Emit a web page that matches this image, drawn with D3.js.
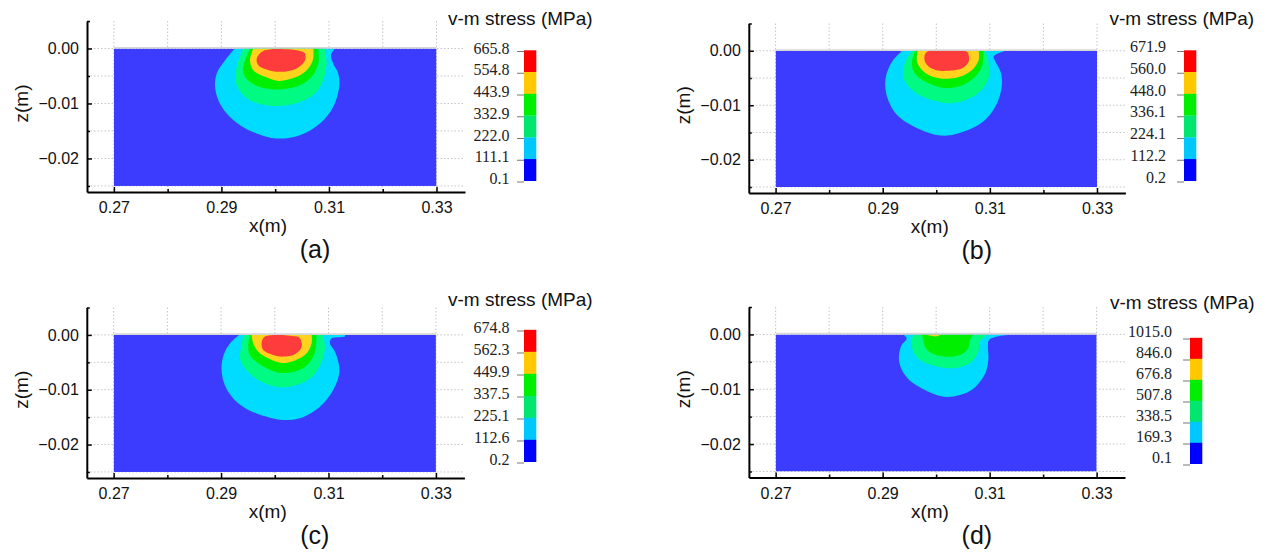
<!DOCTYPE html>
<html>
<head>
<meta charset="utf-8">
<script src="https://cdn.jsdelivr.net/npm/d3@7"></script>
<style>
  body { margin: 0; background: #fff; }
  svg { display: block; }
</style>
</head>
<body>
<svg id="fig" width="1268" height="554"></svg>
<script>
// ---- axes ----
const xTicksMajor = [0.27, 0.29, 0.31, 0.33];
const xTicksMinor = [0.28, 0.30, 0.32];
const zTicksMajor = [0, -0.01, -0.02];
const zTicksMinor = [0.005, -0.005, -0.015, -0.025];
const xDomain = [0.265, 0.3353];
const zDomain = [-0.0261, 0.005];
const fieldX = [0.27, 0.33];     // extent of the computed domain (m)
const fieldZ = [-0.025, 0];

// ---- colour bar labels (MPa), top to bottom ----
const legendA = ["665.8", "554.8", "443.9", "332.9", "222.0", "111.1", "0.1"];
const legendB = ["671.9", "560.0", "448.0", "336.1", "224.1", "112.2", "0.2"];
const legendC = ["674.8", "562.3", "449.9", "337.5", "225.1", "112.6", "0.2"];
const legendD = ["1015.0", "846.0", "676.8", "507.8", "338.5", "169.3", "0.1"];

// ---- iso-stress boundaries [x (m), z (m)], from the 2nd band upward ----
// (a)
const cyanA = [[0.2925,0],[0.29068,-0.00213],[0.28913,-0.00455],[0.28882,-0.00698],[0.28943,-0.0094],[0.29099,-0.01182],[0.29346,-0.01395],[0.29656,-0.01545],[0.30028,-0.01636],[0.30461,-0.01576],[0.30832,-0.01364],[0.31079,-0.01062],[0.31191,-0.00698],[0.31172,-0.00455],[0.31079,-0.00273],[0.31037,-0.00122],[0.31111,0]];
const ltGreenA = [[0.29408,0],[0.29285,-0.00335],[0.29272,-0.00636],[0.29378,-0.00818],[0.29593,-0.00971],[0.30028,-0.01044],[0.30461,-0.00971],[0.3074,-0.00818],[0.30894,-0.00576],[0.30957,-0.00273],[0.30925,0]];
const greenA = [[0.29532,0],[0.29408,-0.00335],[0.29439,-0.00516],[0.29625,-0.00667],[0.30028,-0.00745],[0.30461,-0.00667],[0.30678,-0.00516],[0.30801,-0.00273],[0.30801,0]];
const yellowA = [[0.29593,0],[0.29532,-0.00213],[0.29593,-0.00395],[0.29811,-0.00516],[0.30058,-0.00589],[0.304,-0.00516],[0.30615,-0.00364],[0.30708,-0.00182],[0.30708,0]];
const redA = [[0.29779,-0.00044],[0.30461,-0.00044],[0.30554,-0.00091],[0.30554,-0.00213],[0.304,-0.00364],[0.30089,-0.00425],[0.29842,-0.00382],[0.29686,-0.00304],[0.29657,-0.00182]];
// (b)
const cyanB = [[0.2936,0],[0.29174,-0.002],[0.29067,-0.00442],[0.29049,-0.00685],[0.2911,-0.00927],[0.29235,-0.0114],[0.29454,-0.01322],[0.29764,-0.01473],[0.3,-0.01545],[0.30262,-0.01551],[0.30761,-0.01376],[0.31009,-0.01164],[0.31164,-0.00891],[0.31228,-0.00587],[0.31196,-0.00376],[0.31103,-0.00195],[0.31071,-0.00104],[0.31289,0]];
const ltGreenB = [[0.29547,0],[0.29422,-0.002],[0.29379,-0.00442],[0.29454,-0.00624],[0.2967,-0.00805],[0.30014,-0.00927],[0.30262,-0.00964],[0.30574,-0.00896],[0.30823,-0.00745],[0.30978,-0.00504],[0.30978,-0.00218],[0.30916,0]];
const greenB = [[0.29609,0],[0.29547,-0.002],[0.29577,-0.00382],[0.29734,-0.00533],[0.30014,-0.00655],[0.30231,-0.00685],[0.30511,-0.00624],[0.30729,-0.00473],[0.30854,-0.00291],[0.30884,0]];
const yellowB = [[0.29652,0],[0.29641,-0.002],[0.29734,-0.00351],[0.29921,-0.00473],[0.30201,-0.00515],[0.30449,-0.00473],[0.30668,-0.00351],[0.30791,-0.00169],[0.30791,0]];
const redB = [[0.29827,-0.00018],[0.30574,-0.00018],[0.30604,-0.00078],[0.30604,-0.002],[0.30481,-0.00322],[0.30201,-0.00369],[0.29982,-0.00351],[0.29827,-0.0026],[0.29777,-0.0014]];
// (c)
const cyanC = [[0.29338,0],[0.29197,-0.00122],[0.29072,-0.00305],[0.2901,-0.00547],[0.29029,-0.0079],[0.29133,-0.01035],[0.29319,-0.01246],[0.29599,-0.01411],[0.2991,-0.01509],[0.30157,-0.01551],[0.30468,-0.0152],[0.3084,-0.01309],[0.31088,-0.01004],[0.312,-0.00699],[0.31181,-0.00487],[0.3112,-0.00305],[0.31026,-0.00151],[0.31058,-0.0006],[0.31306,-0.00031],[0.31306,0]];
const ltGreenC = [[0.29412,0],[0.29383,-0.00182],[0.29351,-0.00425],[0.29444,-0.00608],[0.29692,-0.00821],[0.30058,-0.00949],[0.30407,-0.00912],[0.30716,-0.00748],[0.30872,-0.00487],[0.30933,-0.00243],[0.30902,0]];
const greenC = [[0.29537,0],[0.29506,-0.00182],[0.29537,-0.00365],[0.29692,-0.00516],[0.29941,-0.00648],[0.30127,-0.00693],[0.30407,-0.00657],[0.30622,-0.00529],[0.30747,-0.00305],[0.30779,0]];
const yellowC = [[0.29569,0],[0.29599,-0.00151],[0.29692,-0.00305],[0.29878,-0.00425],[0.30127,-0.00511],[0.30375,-0.00465],[0.30593,-0.00334],[0.30686,-0.00151],[0.30686,0]];
const redC = [[0.29817,-0.00031],[0.30407,-0.00031],[0.30468,-0.0006],[0.305,-0.00214],[0.30375,-0.00352],[0.30157,-0.00396],[0.29971,-0.00365],[0.29785,-0.00274],[0.29755,-0.00151]];
// (d)
const cyanD = [[0.29385,0],[0.29449,-0.00073],[0.29355,-0.00195],[0.29305,-0.00376],[0.29323,-0.00558],[0.29417,-0.0074],[0.29572,-0.00891],[0.29791,-0.01013],[0.30009,-0.01104],[0.30196,-0.0114],[0.30445,-0.01104],[0.30664,-0.01013],[0.30819,-0.00862],[0.30931,-0.0068],[0.30978,-0.00436],[0.30968,-0.00225],[0.30987,-0.00104],[0.31137,-0.0004],[0.31411,0]];
const ltGreenD = [[0.29572,0],[0.29542,-0.00104],[0.29572,-0.00316],[0.29697,-0.00467],[0.29916,-0.00558],[0.30196,-0.00618],[0.30477,-0.00589],[0.30664,-0.00498],[0.30787,-0.00316],[0.30819,-0.00135],[0.30912,-0.00044],[0.30974,0]];
const greenD = [[0.29729,0],[0.29759,-0.00104],[0.29791,-0.00225],[0.29916,-0.00345],[0.30196,-0.00407],[0.30445,-0.00376],[0.306,-0.00255],[0.30632,-0.00104],[0.30693,0]];
const yellowD = [[0.29822,0],[0.29884,-0.00022],[0.29996,-0.00035],[0.30103,0]];
const redD = [];

// ---- colours: lowest band first ----
const fieldColors = ["#3c3cff", "#00dcff", "#00fa82", "#00ee00", "#ffd21e", "#ff3c3c"];
const barColors   = ["#0000ff", "#00c8ff", "#00e66e", "#00ee00", "#ffc800", "#ff0000"];

const panels = [
  { tag: "(a)", bands: [cyanA, ltGreenA, greenA, yellowA, redA], labels: legendA,
    left: 87, top: 21, width: 378, height: 171,
    leg: { tx: 448, ty: 25, labelRight: 509.5, barX: 524, barTop: 51.5, barBot: 182, dy: 2 } },
  { tag: "(b)", bands: [cyanB, ltGreenB, greenB, yellowB, redB], labels: legendB,
    left: 748.8, top: 23.5, width: 376.6, height: 169.5,
    leg: { tx: 1109.5, ty: 25, labelRight: 1166, barX: 1184, barTop: 51.5, barBot: 182, dy: 0.5 } },
  { tag: "(c)", bands: [cyanC, ltGreenC, greenC, yellowC, redC], labels: legendC,
    left: 86.8, top: 307.5, width: 377.6, height: 170.5,
    leg: { tx: 448, ty: 306, labelRight: 509.5, barX: 524, barTop: 331, barBot: 463, dy: 1.5 } },
  { tag: "(d)", bands: [cyanD, ltGreenD, greenD, yellowD, redD], labels: legendD,
    left: 748.9, top: 307, width: 376.1, height: 170.5,
    leg: { tx: 1110, ty: 309, labelRight: 1172, barX: 1190, barTop: 339, barBot: 465, dy: -2 } }
];

const sans = "'Liberation Sans', Arial, Helvetica, sans-serif";
const serif = "'Liberation Serif', 'Times New Roman', serif";
const svg = d3.select("#fig");

panels.forEach((p, pi) => {
  const g = svg.append("g");
  const x = d3.scaleLinear().domain(xDomain).range([p.left, p.left + p.width]);
  const z = d3.scaleLinear().domain(zDomain).range([p.top + p.height, p.top]);

  // dotted grid
  const grid = g.append("g").attr("stroke", "#c4c4c4").attr("stroke-width", 1)
    .attr("stroke-dasharray", "1.5,2");
  grid.selectAll("line.v").data(xTicksMajor.concat(xTicksMinor)).join("line")
    .attr("x1", d => x(d)).attr("x2", d => x(d))
    .attr("y1", p.top).attr("y2", p.top + p.height);
  grid.selectAll("line.h").data(zTicksMajor.concat(zTicksMinor.filter(v => v < 0))).join("line")
    .attr("x1", p.left).attr("x2", p.left + p.width)
    .attr("y1", d => z(d)).attr("y2", d => z(d));

  // stress field
  const clipId = "clip" + pi;
  g.append("clipPath").attr("id", clipId).append("rect")
    .attr("x", x(fieldX[0])).attr("y", z(fieldZ[1]))
    .attr("width", x(fieldX[1]) - x(fieldX[0])).attr("height", z(fieldZ[0]) - z(fieldZ[1]));
  const field = g.append("g").attr("clip-path", `url(#${clipId})`);
  field.append("rect")
    .attr("x", x(fieldX[0])).attr("y", z(fieldZ[1]))
    .attr("width", x(fieldX[1]) - x(fieldX[0])).attr("height", z(fieldZ[0]) - z(fieldZ[1]))
    .attr("fill", fieldColors[0]);

  const openLine = d3.line().x(d => x(d[0])).y(d => z(d[1])).curve(d3.curveCatmullRom.alpha(0.5));
  const closedLine = d3.line().x(d => x(d[0])).y(d => z(d[1])).curve(d3.curveCatmullRomClosed.alpha(0.5));
  p.bands.forEach((pts, i) => {
    if (!pts.length) return;
    const touchesSurface = pts[0][1] === 0;
    field.append("path")
      .attr("d", touchesSurface ? openLine(pts) + "Z" : closedLine(pts))
      .attr("fill", fieldColors[i + 1]);
  });

  // surface edge
  g.append("line")
    .attr("x1", x(fieldX[0])).attr("x2", x(fieldX[1]))
    .attr("y1", z(0) - 0.8).attr("y2", z(0) - 0.8)
    .attr("stroke", "#d6d6d6").attr("stroke-width", 1.6);

  // axes
  const yBase = p.top + p.height;
  const xAxis = g.append("g").attr("transform", `translate(0,${yBase})`)
    .call(d3.axisBottom(x).tickValues(xTicksMajor).tickSizeInner(-5).tickSizeOuter(0)
      .tickPadding(10).tickFormat(d3.format(".2f")));
  g.append("g").attr("transform", `translate(0,${yBase})`)
    .call(d3.axisBottom(x).tickValues(xTicksMinor).tickSizeInner(-3).tickSizeOuter(0).tickFormat(""))
    .call(a => a.select(".domain").remove());
  const zAxis = g.append("g").attr("transform", `translate(${p.left},0)`)
    .call(d3.axisLeft(z).tickValues(zTicksMajor).tickSizeInner(-5).tickSizeOuter(0)
      .tickPadding(8).tickFormat(d => d === 0 ? "0.00" : d3.format(".2f")(d)));
  g.append("g").attr("transform", `translate(${p.left},0)`)
    .call(d3.axisLeft(z).tickValues(zTicksMinor).tickSizeInner(-3).tickSizeOuter(0).tickFormat(""))
    .call(a => a.select(".domain").remove());
  g.selectAll(".domain").attr("stroke", "#000").attr("stroke-width", 2);
  g.selectAll(".tick line").attr("stroke", "#000").attr("stroke-width", 1.5);
  [xAxis, zAxis].forEach(a => a.selectAll("text")
    .attr("font-family", sans).attr("font-size", 16).attr("fill", "#111"));

  // axis titles
  g.append("text").attr("x", p.left + 181).attr("y", yBase + 40)
    .attr("text-anchor", "middle").attr("font-family", sans).attr("font-size", 19)
    .attr("fill", "#111").text("x(m)");
  g.append("text")
    .attr("transform", `translate(${p.left - 59},${z(-0.01)}) rotate(-90)`)
    .attr("text-anchor", "middle").attr("font-family", sans).attr("font-size", 19)
    .attr("fill", "#111").text("z(m)");
  g.append("text").attr("x", p.left + 228).attr("y", yBase + 66)
    .attr("text-anchor", "middle").attr("font-family", sans).attr("font-size", 25)
    .attr("fill", "#111").text(p.tag);

  // colour bar
  const L = p.leg;
  g.append("text").attr("x", L.tx).attr("y", L.ty)
    .attr("font-family", sans).attr("font-size", 19).attr("fill", "#111")
    .text("v-m stress (MPa)");
  const ly = d3.scaleLinear().domain([0, p.labels.length - 1]).range([L.barTop, L.barBot]);
  const nBlocks = p.labels.length - 1;
  g.selectAll("rect.blk").data(d3.range(nBlocks)).join("rect")
    .attr("x", L.barX).attr("width", 12.3)
    .attr("y", i => ly(i) - 1.2).attr("height", i => ly(i + 1) - ly(i) + 0.2)
    .attr("fill", i => barColors[nBlocks - 1 - i]);
  g.selectAll("line.lt").data(p.labels).join("line")
    .attr("x1", L.barX - 7).attr("x2", L.barX)
    .attr("y1", (d, i) => ly(i)).attr("y2", (d, i) => ly(i))
    .attr("stroke", "#777").attr("stroke-width", 1);
  g.selectAll("text.lv").data(p.labels).join("text")
    .attr("x", L.labelRight).attr("y", (d, i) => ly(i) + L.dy)
    .attr("text-anchor", "end").attr("font-family", serif).attr("font-size", 16)
    .attr("fill", "#222").text(d => d);
});
</script>
</body>
</html>
